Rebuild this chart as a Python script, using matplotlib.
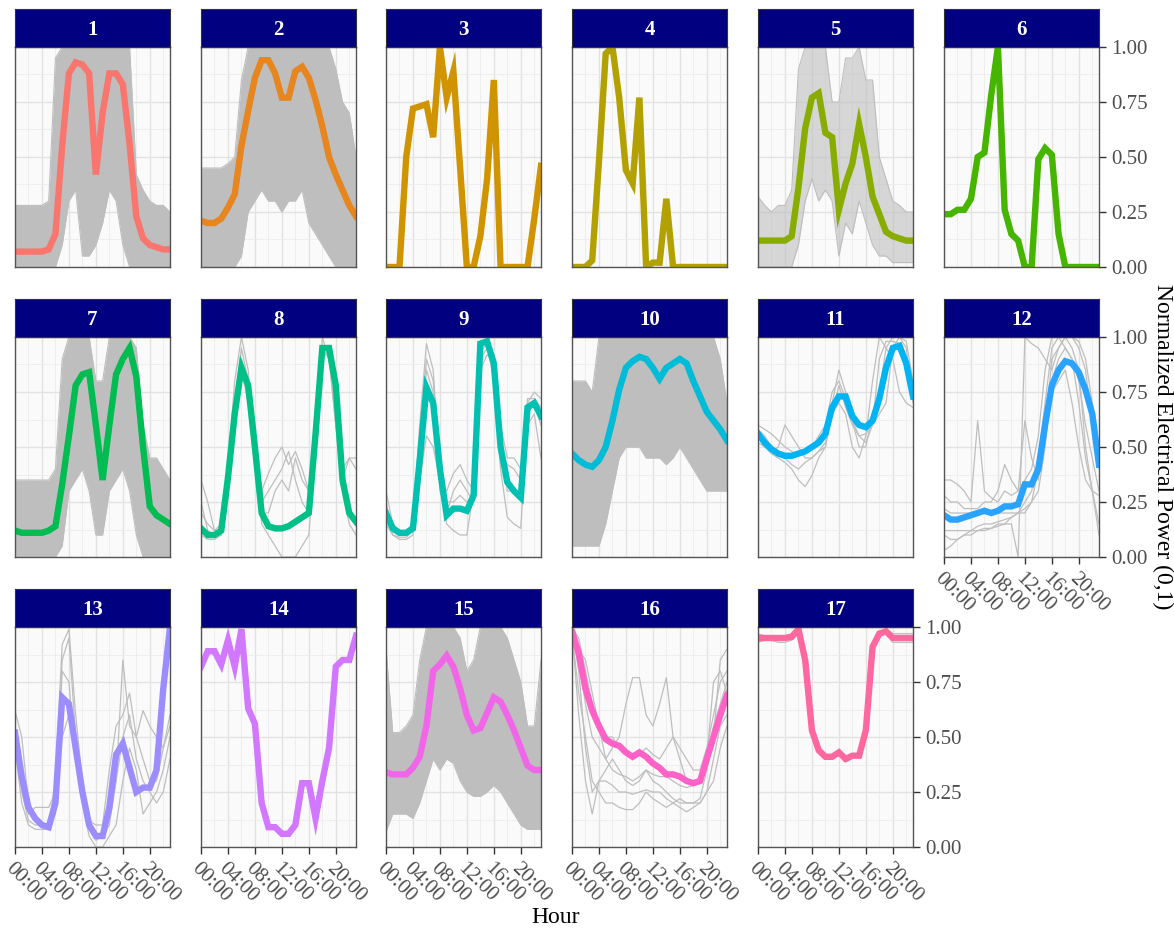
import numpy as np
import matplotlib
matplotlib.use("Agg")
import matplotlib.pyplot as plt

plt.rcParams["font.family"] = ["Liberation Serif", "DejaVu Serif"]

# 시간 (0 ~ 23시)
hours = list(range(24))
tick_hours = [0, 4, 8, 12, 16, 20]
tick_labels = ["00:00", "04:00", "08:00", "12:00", "16:00", "20:00"]

# 클러스터 중심 (굵은 선)
c1 = [0.07, 0.07, 0.07, 0.07, 0.07, 0.08, 0.15, 0.55, 0.88, 0.93, 0.92, 0.88, 0.42, 0.70, 0.88, 0.88, 0.83, 0.56, 0.23, 0.13, 0.10, 0.09, 0.08, 0.08]
c2 = [0.21, 0.20, 0.20, 0.22, 0.27, 0.33, 0.55, 0.71, 0.86, 0.94, 0.94, 0.88, 0.77, 0.77, 0.89, 0.91, 0.86, 0.76, 0.64, 0.50, 0.42, 0.35, 0.28, 0.23]
c3 = [0.0, 0.0, 0.0, 0.50, 0.72, 0.73, 0.74, 0.59, 1.0, 0.77, 0.89, 0.45, 0.0, 0.0, 0.14, 0.40, 0.85, 0.0, 0.0, 0.0, 0.0, 0.0, 0.22, 0.46]
c4 = [0.0, 0.0, 0.0, 0.03, 0.48, 0.97, 1.0, 0.77, 0.44, 0.38, 0.77, 0.0, 0.02, 0.02, 0.31, 0.0, 0.0, 0.0, 0.0, 0.0, 0.0, 0.0, 0.0, 0.0]
c5 = [0.12, 0.12, 0.12, 0.12, 0.12, 0.14, 0.36, 0.63, 0.77, 0.79, 0.61, 0.59, 0.26, 0.38, 0.47, 0.65, 0.50, 0.32, 0.24, 0.16, 0.14, 0.13, 0.12, 0.12]
c6 = [0.24, 0.24, 0.26, 0.26, 0.31, 0.50, 0.52, 0.78, 1.0, 0.26, 0.15, 0.12, 0.0, 0.0, 0.49, 0.54, 0.51, 0.15, 0.0, 0.0, 0.0, 0.0, 0.0, 0.0]
c7 = [0.12, 0.11, 0.11, 0.11, 0.11, 0.12, 0.14, 0.33, 0.55, 0.78, 0.83, 0.84, 0.60, 0.35, 0.60, 0.83, 0.90, 0.95, 0.82, 0.50, 0.23, 0.19, 0.17, 0.15]
c8 = [0.13, 0.10, 0.10, 0.12, 0.36, 0.65, 0.86, 0.78, 0.50, 0.20, 0.14, 0.13, 0.13, 0.14, 0.16, 0.18, 0.20, 0.56, 0.95, 0.95, 0.78, 0.35, 0.20, 0.16]
c9 = [0.20, 0.13, 0.11, 0.11, 0.13, 0.44, 0.77, 0.70, 0.40, 0.19, 0.22, 0.22, 0.21, 0.28, 0.97, 0.98, 0.88, 0.50, 0.34, 0.30, 0.27, 0.68, 0.70, 0.64]
c10 = [0.47, 0.44, 0.42, 0.41, 0.44, 0.50, 0.62, 0.76, 0.86, 0.89, 0.91, 0.90, 0.86, 0.81, 0.86, 0.88, 0.90, 0.88, 0.80, 0.73, 0.66, 0.62, 0.58, 0.53]
c11 = [0.56, 0.52, 0.49, 0.47, 0.46, 0.46, 0.47, 0.48, 0.50, 0.52, 0.56, 0.68, 0.73, 0.73, 0.64, 0.60, 0.59, 0.62, 0.72, 0.86, 0.95, 0.96, 0.88, 0.73]
c12 = [0.19, 0.17, 0.17, 0.18, 0.19, 0.20, 0.21, 0.20, 0.21, 0.23, 0.23, 0.24, 0.33, 0.33, 0.40, 0.60, 0.78, 0.85, 0.89, 0.88, 0.84, 0.76, 0.65, 0.42]
c13 = [0.52, 0.32, 0.18, 0.13, 0.10, 0.09, 0.20, 0.68, 0.65, 0.45, 0.25, 0.10, 0.05, 0.05, 0.18, 0.42, 0.47, 0.36, 0.25, 0.27, 0.27, 0.35, 0.72, 1.0]
c14 = [0.82, 0.89, 0.89, 0.83, 0.94, 0.82, 0.99, 0.63, 0.56, 0.20, 0.09, 0.09, 0.06, 0.06, 0.10, 0.29, 0.29, 0.13, 0.30, 0.45, 0.82, 0.85, 0.85, 0.96]
c15 = [0.34, 0.33, 0.33, 0.33, 0.36, 0.41, 0.55, 0.80, 0.83, 0.87, 0.82, 0.72, 0.60, 0.53, 0.54, 0.61, 0.68, 0.66, 0.60, 0.53, 0.45, 0.37, 0.35, 0.35]
c16 = [0.98, 0.88, 0.72, 0.62, 0.55, 0.49, 0.47, 0.46, 0.43, 0.41, 0.43, 0.41, 0.38, 0.36, 0.33, 0.33, 0.32, 0.30, 0.29, 0.30, 0.40, 0.50, 0.60, 0.69]
c17 = [0.95, 0.95, 0.95, 0.95, 0.95, 0.955, 0.99, 0.85, 0.53, 0.44, 0.41, 0.41, 0.43, 0.40, 0.415, 0.415, 0.53, 0.91, 0.97, 0.98, 0.95, 0.95, 0.95, 0.95]

# 회색 묶음 (밀집된 클러스터: 하한 / 상한)
lo1 = [0, 0, 0, 0, 0, 0, 0, 0.10, 0.30, 0.35, 0.05, 0.05, 0.10, 0.20, 0.35, 0.30, 0.10, 0, 0, 0, 0, 0, 0, 0]
hi1 = [0.28, 0.28, 0.28, 0.28, 0.28, 0.30, 0.95, 1, 1, 1, 1, 1, 1, 1, 1, 1, 1, 1, 0.42, 0.35, 0.30, 0.28, 0.28, 0.25]
lo2 = [0, 0, 0, 0, 0, 0, 0.05, 0.25, 0.30, 0.35, 0.30, 0.30, 0.25, 0.30, 0.30, 0.35, 0.20, 0.15, 0.10, 0.05, 0, 0, 0, 0]
hi2 = [0.45, 0.45, 0.45, 0.45, 0.47, 0.50, 0.85, 1, 1, 1, 1, 1, 1, 1, 1, 1, 1, 1, 1, 1, 0.90, 0.75, 0.70, 0.50]
lo5 = [0, 0, 0, 0, 0, 0, 0.10, 0.30, 0.40, 0.30, 0.35, 0.30, 0.05, 0.20, 0.15, 0.30, 0.20, 0.10, 0.05, 0.05, 0.02, 0.02, 0.02, 0.02]
hi5 = [0.32, 0.28, 0.25, 0.28, 0.28, 0.35, 0.90, 1, 1, 1, 1, 0.75, 0.75, 0.95, 0.95, 1, 0.85, 0.85, 0.50, 0.40, 0.30, 0.28, 0.25, 0.25]
lo7 = [0, 0, 0, 0, 0, 0, 0, 0.05, 0.30, 0.35, 0.40, 0.30, 0.10, 0.10, 0.30, 0.35, 0.40, 0.30, 0.10, 0, 0, 0, 0, 0]
hi7 = [0.35, 0.35, 0.35, 0.35, 0.35, 0.35, 0.40, 0.90, 1, 1, 1, 1, 0.80, 0.80, 1, 1, 1, 1, 0.95, 0.60, 0.45, 0.45, 0.40, 0.35]
lo10 = [0.05, 0.05, 0.05, 0.05, 0.05, 0.15, 0.30, 0.45, 0.50, 0.50, 0.50, 0.45, 0.45, 0.45, 0.42, 0.45, 0.50, 0.45, 0.40, 0.35, 0.30, 0.30, 0.30, 0.30]
hi10 = [0.80, 0.80, 0.80, 0.75, 1, 1, 1, 1, 1, 1, 1, 1, 1, 1, 1, 1, 1, 1, 1, 1, 1, 1, 0.90, 0.70]
lo15 = [0.07, 0.15, 0.15, 0.15, 0.13, 0.20, 0.30, 0.40, 0.35, 0.40, 0.38, 0.30, 0.25, 0.23, 0.23, 0.25, 0.28, 0.25, 0.20, 0.15, 0.10, 0.08, 0.08, 0.08]
hi15 = [0.90, 0.52, 0.52, 0.55, 0.60, 0.85, 1, 1, 1, 1, 1, 0.95, 0.80, 0.85, 1, 1, 1, 1, 0.95, 0.85, 0.75, 0.55, 0.55, 0.85]

# 회색 개별 선 (듬성한 클러스터)
g8 = [
    [0.20, 0.15, 0.12, 0.15, 0.40, 0.80, 1.00, 0.85, 0.45, 0.15, 0.10, 0.05, 0.00, 0.00, 0.00, 0.05, 0.10, 0.50, 1.00, 0.90, 0.60, 0.30, 0.15, 0.10],
    [0.25, 0.12, 0.10, 0.10, 0.30, 0.60, 0.85, 0.70, 0.40, 0.30, 0.38, 0.45, 0.50, 0.42, 0.48, 0.40, 0.30, 0.60, 0.90, 0.95, 0.70, 0.40, 0.45, 0.45],
    [0.10, 0.08, 0.08, 0.10, 0.35, 0.70, 0.90, 0.80, 0.50, 0.25, 0.30, 0.35, 0.40, 0.48, 0.35, 0.25, 0.20, 0.50, 0.95, 0.90, 0.75, 0.30, 0.20, 0.15],
    [0.35, 0.25, 0.12, 0.12, 0.30, 0.70, 0.95, 0.80, 0.55, 0.20, 0.20, 0.30, 0.35, 0.30, 0.45, 0.35, 0.30, 0.45, 0.92, 0.92, 0.60, 0.35, 0.45, 0.40],
]
g9 = [
    [0.30, 0.15, 0.12, 0.12, 0.15, 0.60, 0.97, 0.85, 0.40, 0.15, 0.12, 0.10, 0.10, 0.30, 0.95, 1.00, 0.85, 0.45, 0.42, 0.40, 0.35, 0.70, 0.75, 0.72],
    [0.25, 0.10, 0.08, 0.08, 0.10, 0.35, 0.55, 0.50, 0.35, 0.30, 0.38, 0.42, 0.35, 0.30, 0.90, 0.95, 0.90, 0.60, 0.45, 0.45, 0.40, 0.60, 0.65, 0.45],
    [0.15, 0.10, 0.09, 0.09, 0.12, 0.50, 0.85, 0.75, 0.30, 0.20, 0.30, 0.35, 0.30, 0.25, 0.93, 0.97, 0.80, 0.40, 0.18, 0.15, 0.13, 0.65, 0.70, 0.60],
    [0.22, 0.14, 0.12, 0.12, 0.14, 0.55, 0.90, 0.80, 0.45, 0.25, 0.25, 0.28, 0.25, 0.28, 0.85, 0.92, 0.88, 0.50, 0.30, 0.30, 0.30, 0.72, 0.72, 0.68],
]
g11 = [
    [0.55, 0.50, 0.47, 0.45, 0.43, 0.40, 0.35, 0.32, 0.37, 0.45, 0.50, 0.65, 0.78, 0.68, 0.60, 0.55, 0.52, 0.60, 0.90, 0.98, 0.98, 0.97, 0.90, 0.75],
    [0.58, 0.55, 0.50, 0.47, 0.45, 0.42, 0.40, 0.43, 0.45, 0.48, 0.50, 0.70, 0.85, 0.75, 0.62, 0.50, 0.50, 0.65, 0.75, 0.95, 1.00, 1.00, 0.95, 0.70],
    [0.52, 0.50, 0.48, 0.50, 0.60, 0.55, 0.50, 0.45, 0.45, 0.48, 0.52, 0.65, 0.70, 0.65, 0.50, 0.45, 0.55, 0.80, 1.00, 0.95, 0.90, 0.75, 0.70, 0.68],
    [0.60, 0.58, 0.56, 0.53, 0.50, 0.48, 0.46, 0.48, 0.50, 0.55, 0.60, 0.75, 0.80, 0.72, 0.62, 0.55, 0.56, 0.60, 0.65, 0.70, 0.95, 1.00, 0.98, 0.80],
]
g12 = [
    [0.35, 0.35, 0.33, 0.30, 0.25, 0.62, 0.30, 0.27, 0.25, 0.30, 0.28, 0.30, 0.35, 0.40, 0.55, 0.85, 1.00, 1.00, 0.95, 0.90, 0.80, 0.60, 0.45, 0.30],
    [0.10, 0.08, 0.08, 0.10, 0.12, 0.12, 0.12, 0.13, 0.15, 0.15, 0.15, 0.00, 1.00, 0.97, 0.95, 0.90, 0.85, 0.95, 1.00, 0.95, 0.85, 0.50, 0.30, 0.15],
    [0.28, 0.25, 0.25, 0.22, 0.22, 0.22, 0.25, 0.25, 0.30, 0.42, 0.35, 0.30, 0.62, 0.45, 0.35, 0.55, 0.90, 0.95, 1.00, 1.00, 0.98, 0.90, 0.70, 0.50],
    [0.03, 0.05, 0.08, 0.10, 0.10, 0.12, 0.13, 0.13, 0.14, 0.15, 0.18, 0.20, 0.22, 0.25, 0.40, 0.60, 0.75, 0.80, 0.85, 0.70, 0.50, 0.35, 0.30, 0.28],
    [0.22, 0.20, 0.20, 0.20, 0.20, 0.20, 0.20, 0.20, 0.20, 0.20, 0.20, 0.20, 0.25, 0.30, 0.45, 0.70, 0.95, 1.00, 1.00, 1.00, 0.95, 0.85, 0.60, 0.40],
    [0.12, 0.12, 0.12, 0.12, 0.12, 0.14, 0.15, 0.15, 0.16, 0.17, 0.18, 0.20, 0.20, 0.25, 0.30, 0.50, 0.80, 0.90, 0.95, 0.90, 0.70, 0.45, 0.30, 0.10],
]
g13 = [
    [0.62, 0.50, 0.20, 0.12, 0.10, 0.10, 0.30, 0.92, 0.99, 0.60, 0.30, 0.10, 0.03, 0.05, 0.15, 0.30, 0.85, 0.55, 0.50, 0.40, 0.30, 0.30, 0.45, 0.60],
    [0.55, 0.30, 0.15, 0.18, 0.18, 0.18, 0.25, 0.85, 0.95, 0.50, 0.25, 0.12, 0.10, 0.10, 0.35, 0.55, 0.60, 0.70, 0.50, 0.62, 0.55, 0.50, 0.45, 0.55],
    [0.45, 0.20, 0.10, 0.08, 0.08, 0.08, 0.20, 0.50, 0.60, 0.40, 0.20, 0.05, 0.00, 0.00, 0.05, 0.10, 0.30, 0.45, 0.35, 0.15, 0.20, 0.25, 0.35, 0.50],
    [0.50, 0.25, 0.12, 0.10, 0.10, 0.10, 0.15, 0.80, 0.75, 0.40, 0.20, 0.08, 0.05, 0.05, 0.10, 0.30, 0.50, 0.60, 0.40, 0.30, 0.25, 0.20, 0.25, 0.40],
]
g16 = [
    [1.00, 0.80, 0.45, 0.25, 0.30, 0.35, 0.40, 0.35, 0.30, 0.28, 0.30, 0.35, 0.30, 0.28, 0.25, 0.22, 0.20, 0.20, 0.20, 0.22, 0.35, 0.50, 0.85, 0.90],
    [0.95, 0.90, 0.85, 0.70, 0.55, 0.40, 0.45, 0.50, 0.65, 0.77, 0.77, 0.60, 0.55, 0.65, 0.77, 0.50, 0.40, 0.30, 0.28, 0.30, 0.40, 0.75, 0.80, 0.70],
    [0.97, 0.70, 0.50, 0.30, 0.25, 0.20, 0.20, 0.18, 0.17, 0.17, 0.20, 0.25, 0.22, 0.20, 0.18, 0.20, 0.22, 0.20, 0.20, 0.20, 0.25, 0.40, 0.55, 0.60],
    [1.00, 0.95, 0.80, 0.65, 0.55, 0.50, 0.50, 0.45, 0.42, 0.40, 0.42, 0.45, 0.42, 0.40, 0.45, 0.50, 0.45, 0.40, 0.35, 0.35, 0.45, 0.60, 0.75, 0.80],
    [0.98, 0.60, 0.30, 0.15, 0.30, 0.30, 0.28, 0.25, 0.25, 0.24, 0.25, 0.26, 0.25, 0.25, 0.22, 0.20, 0.18, 0.16, 0.18, 0.20, 0.25, 0.30, 0.45, 0.55],
    [0.99, 0.85, 0.65, 0.50, 0.45, 0.40, 0.35, 0.33, 0.32, 0.30, 0.32, 0.35, 0.33, 0.32, 0.32, 0.30, 0.28, 0.27, 0.28, 0.30, 0.42, 0.55, 0.65, 0.75],
]
g17 = [
    [0.93, 0.94, 0.94, 0.93, 0.93, 0.94, 0.98, 0.84, 0.52, 0.43, 0.40, 0.40, 0.42, 0.39, 0.41, 0.41, 0.52, 0.90, 0.96, 0.97, 0.93, 0.93, 0.93, 0.93],
    [0.97, 0.96, 0.96, 0.96, 0.96, 0.97, 1.00, 0.86, 0.54, 0.45, 0.42, 0.42, 0.44, 0.41, 0.42, 0.42, 0.54, 0.92, 0.98, 0.99, 0.97, 0.97, 0.97, 0.97],
]

centers = [c1, c2, c3, c4, c5, c6, c7, c8, c9, c10, c11, c12, c13, c14, c15, c16, c17]
bands = {1: (lo1, hi1), 2: (lo2, hi2), 5: (lo5, hi5), 7: (lo7, hi7), 10: (lo10, hi10), 15: (lo15, hi15)}
members = {8: g8, 9: g9, 11: g11, 12: g12, 13: g13, 16: g16, 17: g17}


def hcl(h, c=100, l=65):
    # ggplot 기본 색상 (HCL -> sRGB)
    h = np.deg2rad(h)
    u, v = c * np.cos(h), c * np.sin(h)
    Y = ((l + 16) / 116) ** 3
    up = u / (13 * l) + 0.1978398
    vp = v / (13 * l) + 0.4683363
    X = 9 * Y * up / (4 * vp)
    Z = 3 * Y / vp - X / 3 - 5 * Y
    rgb = np.array([
        3.240479 * X - 1.537150 * Y - 0.498535 * Z,
        -0.969256 * X + 1.875992 * Y + 0.041556 * Z,
        0.055648 * X - 0.204043 * Y + 1.057311 * Z,
    ])
    rgb = np.where(rgb > 0.0031308, 1.055 * np.abs(rgb) ** (1 / 2.4) - 0.055, 12.92 * rgb)
    return tuple(np.clip(rgb, 0, 1))


colors = [hcl(h) for h in np.linspace(15, 375, 18)[:17]]

W, H = 1174, 930
col_left = [15, 201, 386, 572, 758, 944]
row_top = [47, 337, 627]
pw, ph, sh = 155, 220, 38

fig = plt.figure(figsize=(W / 100, H / 100), dpi=100)

for k in range(17):
    row, col = k // 6, k % 6
    left, top = col_left[col], row_top[row]
    ax = fig.add_axes([left / W, (H - top - ph) / H, pw / W, ph / H])
    ax.set_facecolor("#FAFAFA")
    ax.set_xlim(0, 23)
    ax.set_ylim(0, 1)

    if k + 1 in bands:
        lo, hi = bands[k + 1]
        a = 0.6 if k + 1 == 5 else 1.0
        ax.fill_between(hours, lo, hi, color="#BEBEBE", alpha=a, lw=0)
        ax.plot(hours, lo, color="#BEBEBE", lw=0.8)
        ax.plot(hours, hi, color="#BEBEBE", lw=0.8)
    if k + 1 in members:
        for g in members[k + 1]:
            ax.plot(hours, g, color="#BEBEBE", lw=0.9)

    ax.plot(hours, centers[k], color=colors[k], lw=4.6, solid_joinstyle="miter")

    ax.set_xticks(tick_hours)
    ax.set_xticks([2, 6, 10, 14, 18, 22], minor=True)
    ax.set_yticks([0, 0.25, 0.5, 0.75, 1.0])
    ax.set_yticks([0.125, 0.375, 0.625, 0.875], minor=True)
    ax.grid(which="major", color="#E2E2E2", lw=1.0)
    ax.grid(which="minor", color="#ECECEC", lw=0.6)
    ax.set_axisbelow(True)
    for s in ax.spines.values():
        s.set_color("#555555")
        s.set_linewidth(1.0)

    ax.yaxis.tick_right()
    ax.tick_params(which="minor", length=0)
    ax.tick_params(which="major", length=5, width=1, color="#333333",
                   labelcolor="#4D4D4D", labelsize=15)
    last_in_row = (col == 5) or (k == 16)
    if last_in_row:
        ax.set_yticklabels(["0.00", "0.25", "0.50", "0.75", "1.00"])
    else:
        ax.tick_params(axis="y", length=0, labelright=False)
    if k >= 11:
        ax.set_xticklabels(tick_labels, rotation=-45, ha="left", va="top",
                           rotation_mode="anchor")
    else:
        ax.tick_params(axis="x", length=0, labelbottom=False)

    # 스트립 (클러스터 번호)
    sax = fig.add_axes([left / W, (H - top) / H, pw / W, sh / H])
    sax.set_facecolor("#000080")
    sax.set_xticks([])
    sax.set_yticks([])
    for s in sax.spines.values():
        s.set_color("#333333")
    sax.text(0.5, 0.45, str(k + 1), color="white", fontsize=15, fontweight="bold",
             ha="center", va="center", transform=sax.transAxes)

fig.text(556 / W, 1 - 917 / H, "Hour", ha="center", va="center", fontsize=17)
fig.text(1163 / W, 1 - 447 / H, "Normalized Electrical Power (0,1)", rotation=-90,
         ha="center", va="center", fontsize=17)

fig.savefig("out.png", dpi=100)
